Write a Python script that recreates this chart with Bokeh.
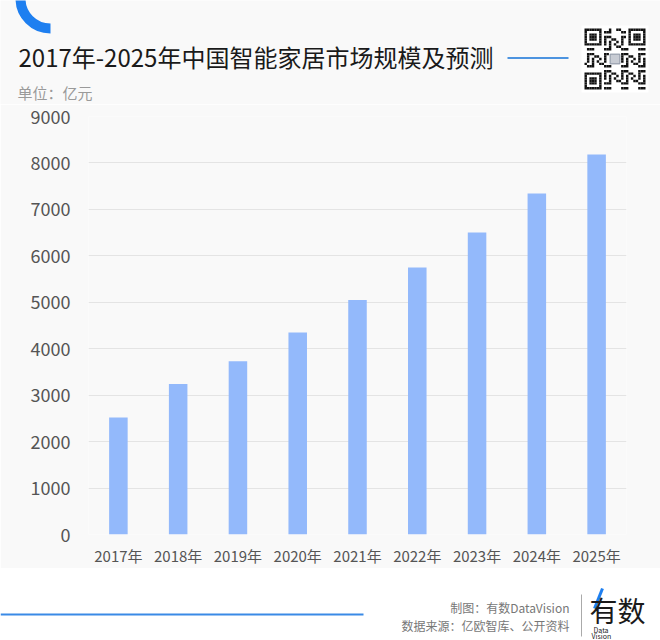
import numpy as np
from bokeh.plotting import figure
from bokeh.models import Range1d, FixedTicker, Label
from bokeh.layouts import column
from bokeh.embed import file_html
from bokeh.resources import INLINE

# ---------------- data ----------------
years = ["2017年", "2018年", "2019年", "2020年", "2021年",
         "2022年", "2023年", "2024年", "2025年"]
market_size = [2520, 3240, 3730, 4350, 5050, 5750, 6500, 7340, 8180]
y_ticks = [0, 1000, 2000, 3000, 4000, 5000, 6000, 7000, 8000, 9000]

title_text = "2017年-2025年中国智能家居市场规模及预测"
unit_text = "单位：亿元"
credit_text = "制图：有数DataVision"
source_text = "数据来源：亿欧智库、公开资料"
logo_text = "有数"

# ---------------- style ----------------
FONT = "Noto Sans CJK SC"
BG = "#f9f9f9"
BAR = "#93b9fb"
W = 660
H_HEAD, H_CHART, H_FOOT = 104, 464, 72


def bare(fig, bg):
    fig.min_border = 0
    fig.background_fill_color = bg
    fig.border_fill_color = bg
    fig.outline_line_color = None
    fig.frame_align = False


def lab(fig, x, y, text, size, color, align="left"):
    fig.add_layout(Label(x=x, y=y, text=text, text_font=FONT,
                         text_font_size=size, text_color=color,
                         text_align=align, text_baseline="middle"))


# ---------------- header ----------------
hdr = figure(width=W, height=H_HEAD, x_range=Range1d(0, W),
             y_range=Range1d(0, H_HEAD), x_axis_type=None, y_axis_type=None,
             output_backend="svg", toolbar_location=None)
bare(hdr, BG)


def hy(py):
    return H_HEAD - py


hdr.arc(x=[50], y=[hy(-2)], radius=30, start_angle=np.pi,
        end_angle=1.5 * np.pi, direction="anticlock",
        line_color="#1e7ff0", line_width=10)
lab(hdr, 18, hy(56), title_text, "24px", "#1a1a1a")
hdr.segment(x0=[507], y0=[hy(57.5)], x1=[568], y1=[hy(57.5)],
            line_color="#4d94e0", line_width=2)
lab(hdr, 17, hy(92), unit_text, "15px", "#9a9a9a")

# decorative QR-like code
n = 25
ms = 61 / n
qx0, qy0 = 584, 28
lefts, rights, tops, bottoms = [], [], [], []


def finder(r, c):
    for (r0, c0) in [(0, 0), (0, n - 7), (n - 7, 0)]:
        if r0 <= r < r0 + 7 and c0 <= c < c0 + 7:
            rr, cc = r - r0, c - c0
            return rr in (0, 6) or cc in (0, 6) or (2 <= rr <= 4 and 2 <= cc <= 4), True
        if r0 - 1 <= r <= r0 + 7 and c0 - 1 <= c <= c0 + 7:
            return False, True
    return False, False


for r in range(n):
    for c in range(n):
        dark, fixed = finder(r, c)
        if not fixed:
            if 10 <= r <= 14 and 10 <= c <= 14:
                dark = False
            else:
                dark = ((r * r * 3 + c * 5 + r * c) % 7) < 3
        if dark:
            lefts.append(qx0 + c * ms)
            rights.append(qx0 + (c + 1) * ms)
            tops.append(hy(qy0 + r * ms))
            bottoms.append(hy(qy0 + (r + 1) * ms))

hdr.quad(left=[qx0 - 3], right=[qx0 + 61 + 3], top=[hy(qy0 - 3)],
         bottom=[hy(qy0 + 61 + 3)], fill_color="white", line_color=None)
hdr.quad(left=lefts, right=rights, top=tops, bottom=bottoms,
         fill_color="#111111", line_color=None)
hdr.quad(left=[qx0 + 10.5 * ms], right=[qx0 + 14.5 * ms],
         top=[hy(qy0 + 10.5 * ms)], bottom=[hy(qy0 + 14.5 * ms)],
         fill_color="#c8ccd4", line_color="#8a93a3", line_width=1)

# ---------------- chart ----------------
p = figure(width=W, height=H_CHART, x_range=years, y_range=Range1d(0, 9000),
           output_backend="svg", toolbar_location=None,
           min_border_left=88, min_border_right=34,
           min_border_top=12, min_border_bottom=33)
p.background_fill_color = BG
p.border_fill_color = BG
p.outline_line_color = None
p.frame_align = False

p.vbar(x=years, top=market_size, width=0.31, fill_color=BAR, line_color=None)

p.yaxis.ticker = FixedTicker(ticks=y_ticks)
p.ygrid.grid_line_color = "#e4e4e4"
p.ygrid.grid_line_width = 1
p.xgrid.grid_line_color = None

for ax in (p.xaxis, p.yaxis):
    ax.axis_line_color = None
    ax.major_tick_line_color = None
    ax.minor_tick_line_color = None
    ax.major_tick_out = 0
    ax.major_tick_in = 0
    ax.major_label_text_font = FONT
    ax.major_label_text_color = "#555555"

p.yaxis.major_label_text_font_size = "18px"
p.yaxis.major_label_standoff = 18
p.xaxis.major_label_text_font_size = "15px"
p.xaxis.major_label_standoff = 10

# ---------------- footer ----------------
ftr = figure(width=W, height=H_FOOT, x_range=Range1d(0, W),
             y_range=Range1d(0, H_FOOT), x_axis_type=None, y_axis_type=None,
             output_backend="svg", toolbar_location=None)
bare(ftr, "white")

Y0_FOOT = H_HEAD + H_CHART


def fy(py):
    return H_FOOT - (py - Y0_FOOT)


ftr.segment(x0=[0], y0=[fy(614)], x1=[363], y1=[fy(614)],
            line_color="#3a8ae6", line_width=2)
lab(ftr, 569, fy(607), credit_text, "12px", "#777777", align="right")
lab(ftr, 569, fy(625), source_text, "12px", "#777777", align="right")
ftr.segment(x0=[581], y0=[fy(594)], x1=[581], y1=[fy(636)],
            line_color="#aaaaaa", line_width=1)
lab(ftr, 589, fy(609), logo_text, "28px", "#1a1a1a")
ftr.segment(x0=[602], y0=[fy(588)], x1=[594], y1=[fy(608)],
            line_color="#1e7ff0", line_width=3)
lab(ftr, 593, fy(629), "Data", "7px", "#222222")
lab(ftr, 591, fy(635), "Vision", "7px", "#222222")

layout = column(hdr, p, ftr, spacing=0)
open("out.html", "w").write(file_html(layout, INLINE, title="chart"))
